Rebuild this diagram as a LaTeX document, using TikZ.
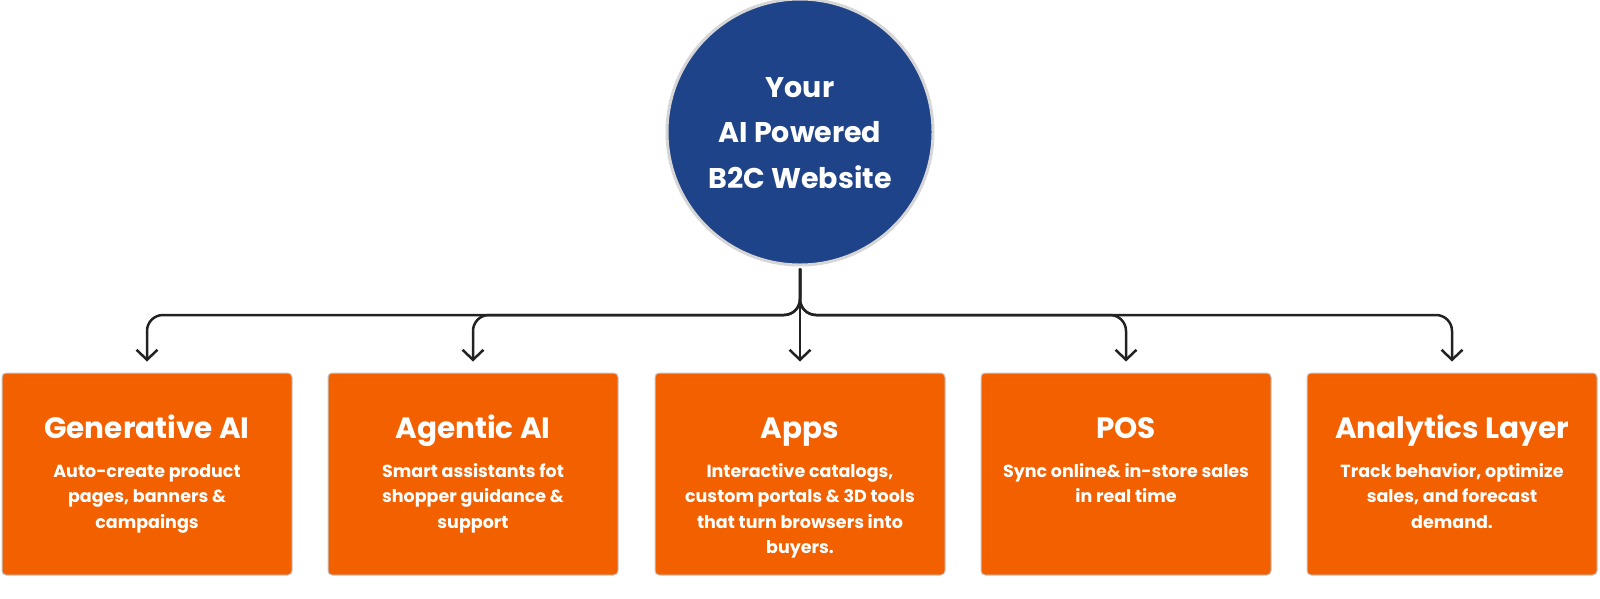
\documentclass[tikz,border=0pt]{standalone}
\usepackage{fontspec}
\setmainfont{Poppins}
\usetikzlibrary{arrows.meta}
\definecolor{hubblue}{HTML}{1F4388}
\definecolor{boxorange}{HTML}{F26000}
\definecolor{linegray}{HTML}{222222}
\definecolor{rimgray}{HTML}{D6D6D6}
\begin{document}
\begin{tikzpicture}[x=1pt,y=-1pt,
  hub/.style={circle,fill=hubblue,draw=rimgray,line width=3pt,minimum size=266pt,inner sep=0pt},
  hubtext/.style={text=white,font=\bfseries\fontsize{28.5}{45.5}\selectfont,align=center,inner sep=0pt},
  card/.style={rectangle,rounded corners=4pt,fill=boxorange,draw=black!22,line width=1pt,minimum width=290pt,minimum height=202pt,inner sep=0pt},
  cardtitle/.style={text=white,font=\bfseries\fontsize{29.5}{34}\selectfont,anchor=base,inner sep=0pt},
  cardbody/.style={text=white,font=\bfseries\fontsize{17.5}{25.5}\selectfont,anchor=base,align=center,inner sep=0pt},
  conn/.style={draw=linegray,line width=2.5pt,rounded corners=16pt,-{Straight Barb[length=10pt,width=21pt]}}
]
\useasboundingbox (0,0) rectangle (1600,598);

\node[hub] (c) at (800,132) {};
\node[hubtext] (ct) at (800,133) {Your\\AI Powered\\B2C Website};

\node[card] (b1) at (147,474) {};
\node[card] (b2) at (473,474) {};
\node[card] (b3) at (800,474) {};
\node[card] (b4) at (1126,474) {};
\node[card] (b5) at (1452,474) {};

\node[cardtitle] (t1) at (147,438) {Generative AI};
\node[cardtitle] (t2) at (473,438) {Agentic AI};
\node[cardtitle] (t3) at (800,438) {Apps};
\node[cardtitle] (t4) at (1126,438) {POS};
\node[cardtitle] (t5) at (1452,438) {Analytics Layer};

% base anchor = baseline of the last line; first baseline at 477, step 25.5
\node[cardbody] (d1) at (147,528) {Auto-create product\\pages, banners \&\\campaings};
\node[cardbody] (d2) at (473,528) {Smart assistants fot\\shopper guidance \&\\support};
\node[cardbody] (d3) at (800,553.5) {Interactive catalogs,\\custom portals \& 3D tools\\that turn browsers into\\buyers.};
\node[cardbody] (d4) at (1126,502.5) {Sync online\& in-store sales\\in real time};
\node[cardbody] (d5) at (1452,528) {Track behavior, optimize\\sales, and forecast\\demand.};

\coordinate (hubbar) at (800,315);
\draw[conn] ([yshift=-2pt]c.south) |- (b1.north |- hubbar) -- ([yshift=11pt]b1.north);
\draw[conn] ([yshift=-2pt]c.south) |- (b2.north |- hubbar) -- ([yshift=11pt]b2.north);
\draw[conn] ([yshift=-2pt]c.south) |- (b4.north |- hubbar) -- ([yshift=11pt]b4.north);
\draw[conn] ([yshift=-2pt]c.south) |- (b5.north |- hubbar) -- ([yshift=11pt]b5.north);
\draw[conn] ([yshift=-2pt]c.south) -- ([yshift=11pt]b3.north);
\end{tikzpicture}
\end{document}
